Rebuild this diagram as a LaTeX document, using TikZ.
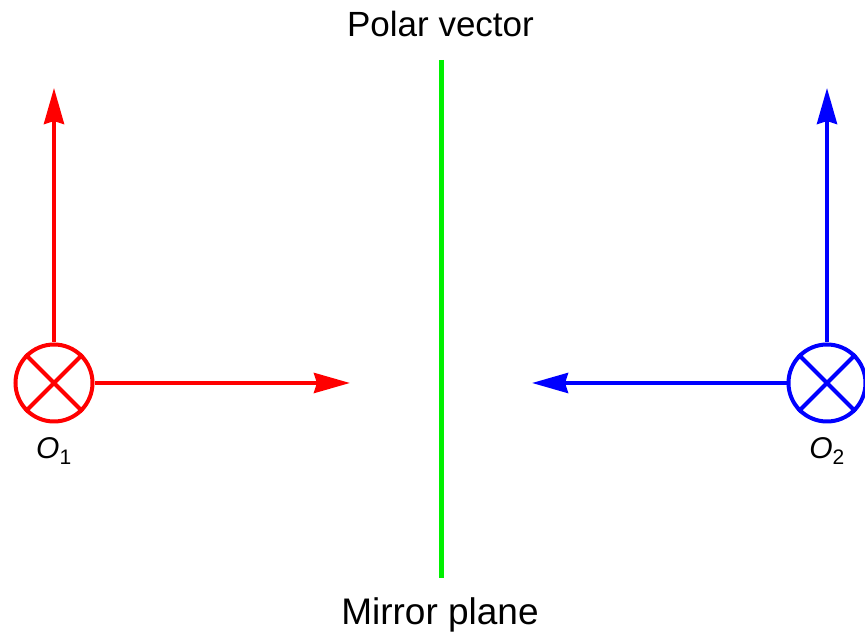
\documentclass[tikz,border=0pt]{standalone}
\usepackage{fontspec}
\setmainfont{Liberation Sans}
\usetikzlibrary{arrows.meta,positioning}
\definecolor{mirrorgreen}{RGB}{0,240,0}
\definecolor{leftred}{RGB}{255,0,0}
\definecolor{rightblue}{RGB}{0,0,255}

\begin{document}
\begin{tikzpicture}[x=1pt,y=1pt,
    origin/.style={circle,draw,line width=4pt,minimum size=77pt,inner sep=0pt},
    vec/.style={line width=4pt,-{Stealth[length=36pt,width=20pt,inset=3pt]}},
    olabel/.style={inner sep=0pt,font=\fontsize{30}{34}\selectfont}]
  \useasboundingbox (0,0) rectangle (865,636);
  % Mirror plane
  \coordinate (mtop) at (441,576);
  \coordinate (mbot) at (441,58);
  \draw[line width=5pt,color=mirrorgreen] (mtop) -- (mbot);
  \node[anchor=base,font=\fontsize{35}{40}\selectfont] (title) at (440.5,599) {Polar vector};
  \node[anchor=base,font=\fontsize{37}{42}\selectfont] (plane) at (440,11) {Mirror plane};
  % Left origin
  \node[origin,draw=leftred] (c1) at (54,253) {};
  \draw[line width=4pt,color=leftred] (c1.north west) -- (c1.south east);
  \draw[line width=4pt,color=leftred] (c1.north east) -- (c1.south west);
  \coordinate (u1) at (54,548);
  \coordinate (r1) at (350,253);
  \draw[vec,color=leftred] (c1.north) -- (u1);
  \draw[vec,color=leftred] (c1.east) -- (r1);
  \node[olabel,below=14pt of c1] (o1) {\textit{O}\textsubscript{1}};
  % Right origin (mirror image)
  \node[origin,draw=rightblue] (c2) at (827,253) {};
  \draw[line width=4pt,color=rightblue] (c2.north west) -- (c2.south east);
  \draw[line width=4pt,color=rightblue] (c2.north east) -- (c2.south west);
  \coordinate (u2) at (827,548);
  \coordinate (l2) at (532,253);
  \draw[vec,color=rightblue] (c2.north) -- (u2);
  \draw[vec,color=rightblue] (c2.west) -- (l2);
  \node[olabel,below=14pt of c2] (o2) {\textit{O}\textsubscript{2}};
\end{tikzpicture}
\end{document}
